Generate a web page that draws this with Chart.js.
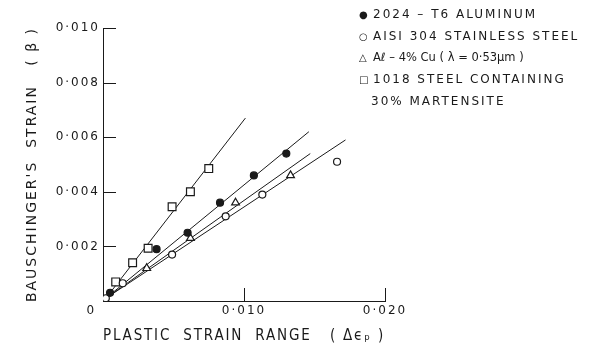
<!DOCTYPE html>
<html>
<head>
<meta charset="utf-8">
<script src="https://cdn.jsdelivr.net/npm/chart.js@4.4.1/dist/chart.umd.min.js"></script>
<style>
    body { margin: 0; background: #fff; }
    #wrap { position: relative; width: 590px; height: 350px; }
    #legend {
        position: absolute; left: 359px; top: 4px;
        font-family: "DejaVu Sans", sans-serif; font-size: 12px;
        letter-spacing: 2px; line-height: 20.7px;
        color: #1a1a1a; white-space: nowrap;
    }
    #legend .mk { display: inline-block; width: 14px; font-size: 10px; letter-spacing: 0; }
    #legend .tight { letter-spacing: 0; font-size: 11.5px; }
    #legend .indent { padding-left: 12px; }
</style>
</head>
<body>
<div id="wrap">
    <canvas id="bauschingerChart" width="590" height="350"></canvas>
    <div id="legend">
        <div><span class="mk">●</span>2024 – T6 ALUMINUM</div>
        <div><span class="mk">○</span>AISI 304 STAINLESS STEEL</div>
        <div><span class="mk">△</span><span class="tight">Aℓ – 4% Cu ( λ = 0·53μm )</span></div>
        <div><span class="mk">□</span>1018 STEEL CONTAINING</div>
        <div class="indent">30% MARTENSITE</div>
    </div>
</div>
<script>
// Data
const aluminumX = [0.0005, 0.0038, 0.0060, 0.0083, 0.0107, 0.0130];
const aluminumY = [0.0003, 0.0019, 0.0025, 0.0036, 0.0046, 0.0054];

const stainlessX = [0.0002, 0.0014, 0.0049, 0.0087, 0.0113, 0.0166];
const stainlessY = [0.0001, 0.00065, 0.0017, 0.0031, 0.0039, 0.0051];

const alCuX = [0.0031, 0.0062, 0.0094, 0.0133];
const alCuY = [0.0012, 0.0023, 0.0036, 0.0046];

const martensiteX = [0.0009, 0.0021, 0.0032, 0.0049, 0.0062, 0.0075];
const martensiteY = [0.0007, 0.0014, 0.00193, 0.00345, 0.0040, 0.00485];

// Fitted lines (start and end points)
const aluminumFitX = [0.0002, 0.0146];
const aluminumFitY = [0.0001, 0.0062];
const stainlessFitX = [0.0002, 0.0172];
const stainlessFitY = [0.0001, 0.0059];
const alCuFitX = [0.0002, 0.0147];
const alCuFitY = [0.0001, 0.0054];
const martensiteFitX = [0.0002, 0.0101];
const martensiteFitY = [0.0001, 0.0067];

// Axis ticks
const xTicks = [0, 0.010, 0.020];
const yTicks = [0, 0.002, 0.004, 0.006, 0.008, 0.010];

const ink = '#1a1a1a';

function toPoints(xs, ys) {
    return xs.map((x, i) => ({ x: x, y: ys[i] }));
}

function fmt(v) {
    return v.toFixed(3).replace('.', '·');
}

function markerSet(xs, ys, style, radius, fill) {
    return {
        data: toPoints(xs, ys),
        pointStyle: style,
        pointRadius: radius,
        backgroundColor: fill,
        borderColor: ink,
        borderWidth: 1.2,
        showLine: false
    };
}

function fitLine(xs, ys) {
    return {
        data: toPoints(xs, ys),
        showLine: true,
        pointRadius: 0,
        borderColor: ink,
        borderWidth: 1
    };
}

// Letter-spaced lettering like the drawing
const spacingPlugin = {
    id: 'spacing',
    beforeDraw(chart) {
        chart.ctx.letterSpacing = '2px';
    }
};

// Tick marks pointing inward
const innerTicks = {
    id: 'innerTicks',
    afterDraw(chart) {
        const { ctx, scales: { x, y } } = chart;
        ctx.save();
        ctx.strokeStyle = ink;
        ctx.lineWidth = 1;
        ctx.beginPath();
        yTicks.slice(1).forEach(v => {
            const py = Math.round(y.getPixelForValue(v)) + 0.5;
            ctx.moveTo(x.left, py);
            ctx.lineTo(x.left + 13, py);
        });
        xTicks.slice(1).forEach(v => {
            const px = Math.round(x.getPixelForValue(v)) + 0.5;
            ctx.moveTo(px, y.bottom);
            ctx.lineTo(px, y.bottom - 13);
        });
        ctx.stroke();
        ctx.restore();
    }
};

const tickFont = { family: 'DejaVu Sans', size: 12 };

new Chart(document.getElementById('bauschingerChart').getContext('2d'), {
    type: 'scatter',
    data: {
        datasets: [
            markerSet(aluminumX, aluminumY, 'circle', 3.5, ink),
            markerSet(stainlessX, stainlessY, 'circle', 3.5, '#fff'),
            markerSet(alCuX, alCuY, 'triangle', 4.5, '#fff'),
            markerSet(martensiteX, martensiteY, 'rect', 5.5, '#fff'),
            fitLine(aluminumFitX, aluminumFitY),
            fitLine(stainlessFitX, stainlessFitY),
            fitLine(alCuFitX, alCuFitY),
            fitLine(martensiteFitX, martensiteFitY)
        ]
    },
    options: {
        responsive: false,
        animation: false,
        layout: { padding: { top: 28, right: 205, left: 0, bottom: 0 } },
        plugins: {
            legend: { display: false },
            tooltip: { enabled: false }
        },
        scales: {
            x: {
                type: 'linear',
                min: 0,
                max: 0.020,
                afterFit(scale) { scale.height = 49; },
                afterBuildTicks(scale) { scale.ticks = xTicks.map(v => ({ value: v })); },
                grid: { display: false, drawTicks: false },
                border: { display: true, color: ink, width: 1 },
                ticks: {
                    autoSkip: false,
                    maxRotation: 0,
                    padding: 3,
                    color: ink,
                    font: tickFont,
                    callback: v => v === 0 ? '0    ' : fmt(v)
                },
                title: {
                    display: true,
                    text: 'PLASTIC  STRAIN  RANGE   ( Δϵₚ )',
                    color: ink,
                    font: { family: 'DejaVu Sans', size: 15 },
                    padding: { top: 0, bottom: 5 }
                }
            },
            y: {
                type: 'linear',
                min: 0,
                max: 0.010,
                afterFit(scale) { scale.width = 103; },
                afterBuildTicks(scale) { scale.ticks = yTicks.map(v => ({ value: v })); },
                grid: { display: false, drawTicks: false },
                border: { display: true, color: ink, width: 1 },
                ticks: {
                    padding: 3,
                    color: ink,
                    font: tickFont,
                    callback: v => v === 0 ? '' : fmt(v)
                },
                title: {
                    display: true,
                    text: "BAUSCHINGER'S  STRAIN   ( β )",
                    color: ink,
                    font: { family: 'DejaVu Sans', size: 14 },
                    padding: { top: 24, bottom: 0 }
                }
            }
        }
    },
    plugins: [spacingPlugin, innerTicks]
});
</script>
</body>
</html>
